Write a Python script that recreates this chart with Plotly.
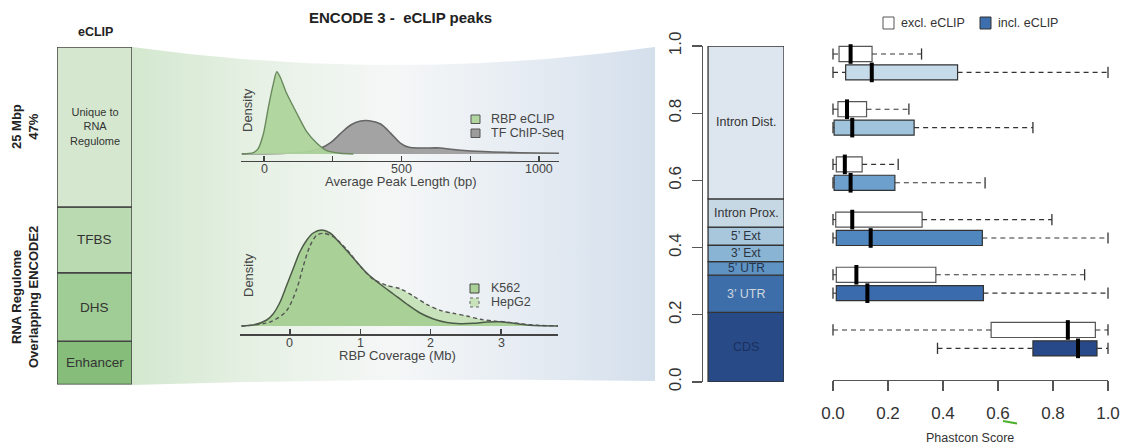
import numpy as np
import plotly.graph_objects as go

W, H = 1122, 447
FONT = "Liberation Sans, Arial, sans-serif"


def X(px):
    return px / W


def Y(py):
    return 1 - py / H


# ---------------- data ----------------
# left stacked bar: eCLIP peak territory (Mbp), bottom -> top
eclip_labels = ["Enhancer", "DHS", "TFBS", "Unique to<br>RNA<br>Regulome"]
eclip_mbp = [6.75, 10.7, 10.3, 25.0]
eclip_colors = ["#86bd7a", "#a0cc96", "#badab2", "#d5e8cf"]
eclip_fontsize = [13.5, 13.5, 13.5, 11]

# inset 1: average peak length densities
rbp_len_x = [-81, -39, -21, -2, 16, 34, 46, 58, 82, 119, 155, 192, 228, 276, 325]
rbp_len_y = [0, 0.13, 0.57, 2.07, 4.73, 7.07, 8.23, 7.73, 6.07, 4.07, 2.23, 1.07, 0.33, 0.07, 0]
tf_len_x = [-81, 82, 155, 206, 242, 279, 315, 351, 382, 424, 461, 497, 527, 570, 642, 679, 752, 873, 994, 1073]
tf_len_y = [0.02, 0.07, 0.23, 0.57, 1.13, 2.07, 2.9, 3.3, 3.33, 3.0, 2.07, 1.07, 0.67, 0.6, 0.6, 0.47, 0.3, 0.17, 0.1, 0.07]
len_ticks = [0, 250, 500, 750, 1000]
len_ticktext = ["0", "", "500", "", "1000"]

# inset 2: RBP coverage densities
k562_x = [-0.69, -0.52, -0.33, -0.24, -0.14, -0.05, 0.05, 0.14, 0.24, 0.33, 0.45, 0.57, 0.71, 0.90,
          1.09, 1.28, 1.47, 1.66, 1.85, 2.04, 2.23, 2.42, 2.61, 2.80, 2.99, 3.18, 3.37, 3.82]
k562_y = [0.0, 0.01, 0.06, 0.12, 0.24, 0.40, 0.58, 0.74, 0.86, 0.93, 0.96, 0.93, 0.83, 0.68,
          0.53, 0.42, 0.32, 0.22, 0.13, 0.07, 0.035, 0.023, 0.027, 0.04, 0.043, 0.027, 0.01, 0.0]
hepg2_x = [-0.69, -0.28, -0.05, 0.095, 0.19, 0.284, 0.379, 0.474, 0.616, 0.806, 0.996, 1.185, 1.375,
           1.565, 1.754, 1.944, 2.134, 2.323, 2.513, 2.703, 2.892, 3.082, 3.27, 3.51, 3.82]
hepg2_y = [0.0, 0.04, 0.15, 0.367, 0.6, 0.8, 0.907, 0.927, 0.893, 0.767, 0.6, 0.467, 0.407,
           0.373, 0.3, 0.217, 0.157, 0.127, 0.1, 0.067, 0.05, 0.04, 0.023, 0.007, 0.0]
cov_ticks = [0, 1, 2, 3]
cov_ticktext = ["0", "1", "2", "3"]

# middle stacked bar: genomic region fractions, bottom -> top
region_labels = ["CDS", "3’ UTR", "5’ UTR", "3’ Ext", "5’ Ext", "Intron Prox.", "Intron Dist."]
region_frac = [0.207, 0.111, 0.040, 0.049, 0.054, 0.084, 0.455]
region_colors = ["#284b88", "#3d6ea9", "#5f93c3", "#8ab4d3", "#a8c6dc", "#c7d8e5", "#dde6ef"]
region_textcolor = ["#1b2f5f", "#cfd6df", "#24354f", "#2b3440", "#2b3440", "#333333", "#333333"]
region_fontsize = [12.5, 12.5, 12, 12, 12, 12.5, 12.5]
frac_ticks = [0.0, 0.2, 0.4, 0.6, 0.8, 1.0]
frac_ticktext = ["0.0", "0.2", "0.4", "0.6", "0.8", "1.0"]

# boxplots of Phastcon score, groups top -> bottom
box_groups = ["Intron Dist.", "Intron Prox.", "Ext", "5’ UTR", "3’ UTR", "CDS"]
box_colors = ["#c6dbea", "#a0c4dc", "#6ea0cd", "#5087be", "#3a6cad", "#27498a"]
excl_lo = [0.0, 0.0, 0.0, 0.0, 0.0, 0.0]
excl_q1 = [0.022, 0.018, 0.012, 0.010, 0.012, 0.575]
excl_med = [0.064, 0.051, 0.043, 0.070, 0.085, 0.854]
excl_q3 = [0.142, 0.122, 0.106, 0.324, 0.374, 0.954]
excl_hi = [0.322, 0.276, 0.237, 0.796, 0.915, 1.0]
incl_lo = [0.0, 0.0, 0.0, 0.0, 0.0, 0.380]
incl_q1 = [0.046, 0.004, 0.004, 0.012, 0.012, 0.727]
incl_med = [0.141, 0.070, 0.064, 0.137, 0.125, 0.891]
incl_q3 = [0.453, 0.295, 0.225, 0.543, 0.547, 0.960]
incl_hi = [1.0, 0.727, 0.553, 1.0, 1.0, 1.0]
score_ticks = [0.0, 0.2, 0.4, 0.6, 0.8, 1.0]
score_ticktext = ["0.0", "0.2", "0.4", "0.6", "0.8", "1.0"]

# ---------------- figure ----------------
fig = go.Figure()

# background fan (decorative gradient between left bar and middle bar)
fx0, fx1 = 132, 655
xs = np.linspace(fx0, fx1, 80)
t = (xs - fx0) / (fx1 - fx0)
top = 47 + 18 * 4 * t * (1 - t)
bot = 385 - 4 * t - 3 * 4 * t * (1 - t)
fig.add_trace(go.Scatter(
    x=np.concatenate([xs, xs[::-1]]), y=np.concatenate([top, bot[::-1]]),
    mode="lines", line=dict(width=0), fill="toself",
    fillgradient=dict(type="horizontal",
                      colorscale=[[0, "#d3e8cf"], [0.25, "#e7f1e5"], [0.5, "#f5f7f7"],
                                   [0.75, "#e6ecf3"], [1, "#d4dfec"]]),
    hoverinfo="skip", showlegend=False, xaxis="x", yaxis="y"))

# left stacked bar
eclip_base = np.concatenate([[0], np.cumsum(eclip_mbp)[:-1]])
for lab, v, b, c in zip(eclip_labels, eclip_mbp, eclip_base, eclip_colors):
    fig.add_trace(go.Bar(x=[0], y=[v], base=[b], width=1, name=lab.replace("<br>", " "),
                         marker=dict(color=c, line=dict(color="#454545", width=1.5)),
                         showlegend=False, xaxis="x2", yaxis="y2"))

# inset 1 densities
fig.add_trace(go.Scatter(x=tf_len_x, y=tf_len_y, mode="lines", fill="tozeroy",
                         line=dict(color="#666666", width=1.6, shape="spline", smoothing=0.8),
                         fillcolor="#a3a3a3", name="TF ChIP-Seq", showlegend=False,
                         xaxis="x3", yaxis="y3"))
fig.add_trace(go.Scatter(x=rbp_len_x, y=rbp_len_y, mode="lines", fill="tozeroy",
                         line=dict(color="#6a8a5e", width=1.4, shape="spline", smoothing=0.7),
                         fillcolor="rgba(174,212,156,0.95)", name="RBP eCLIP", showlegend=False,
                         xaxis="x3", yaxis="y3"))

# inset 2 densities
fig.add_trace(go.Scatter(x=hepg2_x, y=hepg2_y, mode="lines", fill="tozeroy",
                         line=dict(width=0, shape="spline", smoothing=0.8),
                         fillcolor="#c8e2bb", name="HepG2", showlegend=False,
                         xaxis="x4", yaxis="y4"))
fig.add_trace(go.Scatter(x=k562_x, y=k562_y, mode="lines", fill="tozeroy",
                         line=dict(color="#4d5c48", width=1.5, shape="spline", smoothing=0.8),
                         fillcolor="#a9d097", name="K562", showlegend=False,
                         xaxis="x4", yaxis="y4"))
fig.add_trace(go.Scatter(x=hepg2_x, y=hepg2_y, mode="lines",
                         line=dict(color="#555555", width=1.4, dash="4px,3px", shape="spline", smoothing=0.8),
                         name="HepG2 line", showlegend=False, hoverinfo="skip",
                         xaxis="x4", yaxis="y4"))

# middle stacked bar
region_base = np.concatenate([[0], np.cumsum(region_frac)[:-1]])
for lab, v, b, c in zip(region_labels, region_frac, region_base, region_colors):
    fig.add_trace(go.Bar(x=[0], y=[v], base=[b], width=1, name=lab,
                         marker=dict(color=c, line=dict(color="#333333", width=1.3)),
                         showlegend=False, xaxis="x5", yaxis="y5"))

# boxplots
n = len(box_groups)
pos_excl = np.arange(n) * 3.0
pos_incl = pos_excl + 1.0
fig.add_trace(go.Bar(y=pos_excl, x=np.array(excl_q3) - np.array(excl_q1), base=excl_q1,
                     orientation="h", width=0.82, name="excl. eCLIP",
                     marker=dict(color="white", line=dict(color="#555555", width=1.2)),
                     showlegend=False, xaxis="x6", yaxis="y6"))
fig.add_trace(go.Bar(y=pos_incl, x=np.array(incl_q3) - np.array(incl_q1), base=incl_q1,
                     orientation="h", width=0.82, name="incl. eCLIP",
                     marker=dict(color=box_colors, line=dict(color="#333333", width=1.2)),
                     showlegend=False, xaxis="x6", yaxis="y6"))

wx, wy, cx, cy = [], [], [], []
rows = list(zip(excl_lo, excl_q1, excl_q3, excl_hi, pos_excl)) + \
    list(zip(incl_lo, incl_q1, incl_q3, incl_hi, pos_incl))
for lo, q1, q3, hi, p in rows:
    wx += [lo, q1, None, q3, hi, None]
    wy += [p, p, None, p, p, None]
    cx += [lo, hi]
    cy += [p, p]
fig.add_trace(go.Scatter(x=wx, y=wy, mode="lines", line=dict(color="#333333", width=1.1, dash="5px,4px"),
                         hoverinfo="skip", showlegend=False, cliponaxis=False, xaxis="x6", yaxis="y6"))
fig.add_trace(go.Scatter(x=cx, y=cy, mode="markers",
                         marker=dict(symbol="line-ns", size=8, line=dict(color="#333333", width=1.3)),
                         hoverinfo="skip", showlegend=False, cliponaxis=False, xaxis="x6", yaxis="y6"))
fig.add_trace(go.Scatter(x=list(excl_med) + list(incl_med), y=list(pos_excl) + list(pos_incl),
                         mode="markers", marker=dict(symbol="line-ns", size=14, line=dict(color="black", width=4)),
                         name="median", showlegend=False, cliponaxis=False, xaxis="x6", yaxis="y6"))

# ---------------- layout ----------------
hidden = dict(visible=False, fixedrange=True, showgrid=False, zeroline=False, automargin=False)
tickfont_big = dict(family=FONT, size=17, color="#333333")
inset_axis = dict(showline=True, linecolor="#444444", linewidth=1.6,
                  ticks="inside", ticklen=5, tickcolor="#444444", tickwidth=1.2,
                  showticklabels=False, showgrid=False, zeroline=False,
                  fixedrange=True, automargin=False)

fig.update_layout(
    width=W, height=H, autosize=False,
    margin=dict(l=0, r=0, t=0, b=0, pad=0, autoexpand=False),
    paper_bgcolor="white", plot_bgcolor="rgba(0,0,0,0)",
    barmode="overlay", showlegend=False,
    font=dict(family=FONT, color="#333333"),
    xaxis=dict(domain=[0, 1], range=[0, W], **hidden),
    yaxis=dict(domain=[0, 1], range=[H, 0], **hidden),
    xaxis2=dict(domain=[X(57), X(132)], range=[-0.5, 0.5], anchor="y2", **hidden),
    yaxis2=dict(domain=[Y(384.5), Y(47)], range=[0, float(sum(eclip_mbp))], anchor="x2", **hidden),
    xaxis3=dict(domain=[X(241), X(559)], range=[-84, 1073], anchor="y3",
                tickvals=len_ticks, **inset_axis),
    yaxis3=dict(domain=[Y(160.5), Y(62)], range=[-0.65, 9.2], anchor="x3", **hidden),
    xaxis4=dict(domain=[X(240), X(558)], range=[-0.71, 3.81], anchor="y4",
                tickvals=cov_ticks, **inset_axis),
    yaxis4=dict(domain=[Y(334), Y(222)], range=[-0.08, 1.04], anchor="x4", **hidden),
    xaxis5=dict(domain=[X(703), X(784)], range=[-0.5667, 0.5], anchor="y5", **hidden),
    yaxis5=dict(domain=[Y(382), Y(46)], range=[0, 1], anchor="x5",
                showline=True, linecolor="#555555", linewidth=1.2,
                ticks="outside", ticklen=10, tickcolor="#555555", tickwidth=1.2,
                tickmode="array", tickvals=frac_ticks, ticktext=frac_ticktext,
                tickangle=-90, tickfont=tickfont_big, ticklabelstandoff=4,
                showgrid=False, zeroline=False, fixedrange=True, automargin=False),
    xaxis6=dict(domain=[X(833), X(1108)], range=[0, 1], anchor="y6",
                showline=True, linecolor="#555555", linewidth=1.2,
                ticks="outside", ticklen=10, tickcolor="#555555", tickwidth=1.2,
                tickmode="array", tickvals=score_ticks, ticktext=score_ticktext,
                tickfont=tickfont_big, ticklabelstandoff=7,
                showgrid=False, zeroline=False, fixedrange=True, automargin=False),
    yaxis6=dict(domain=[Y(380), Y(38)], range=[17.72, -0.87], anchor="x6", **hidden),
)

annotations = []


def ann(text, px, py, size, color="#333333", bold=False, angle=0, xanchor="center"):
    annotations.append(dict(
        text=text, x=X(px), y=Y(py), xref="paper", yref="paper",
        xanchor=xanchor, yanchor="middle", showarrow=False, textangle=angle,
        font=dict(family=FONT, size=size, color=color, weight="bold" if bold else "normal")))


ann("ENCODE 3 -  eCLIP peaks", 400, 18, 15, "#222222", bold=True)
ann("eCLIP", 95, 32, 12.5, "#222222", bold=True)
ann("25 Mbp<br>47%", 25, 127, 13, "#222222", bold=True, angle=-90)
ann("RNA Regulome<br>Overlapping ENCODE2", 25, 297, 13, "#222222", bold=True, angle=-90)

# labels in left bar (at segment centres)
for lab, v, b, fs in zip(eclip_labels, eclip_mbp, eclip_base, eclip_fontsize):
    annotations.append(dict(text=lab, x=0, y=b + v / 2, xref="x2", yref="y2", showarrow=False,
                            font=dict(family=FONT, size=fs, color="#333333")))

# labels in middle bar
for lab, v, b, fs, tc in zip(region_labels, region_frac, region_base, region_fontsize, region_textcolor):
    annotations.append(dict(text=lab, x=0, y=b + v / 2, xref="x5", yref="y5", showarrow=False,
                            font=dict(family=FONT, size=fs, color=tc)))

# inset tick labels (placed tight under the axis line, as in the reference)
for v, tt in zip(len_ticks, len_ticktext):
    if tt:
        annotations.append(dict(text=tt, x=v, y=Y(169), xref="x3", yref="paper", showarrow=False,
                                yanchor="middle", font=dict(family=FONT, size=12.5, color="#444444")))
for v, tt in zip(cov_ticks, cov_ticktext):
    annotations.append(dict(text=tt, x=v, y=Y(343), xref="x4", yref="paper", showarrow=False,
                            yanchor="middle", font=dict(family=FONT, size=12.5, color="#444444")))

# inset titles / labels
ann("Density", 248, 110, 13, "#444444", angle=-90)
ann("Average Peak Length (bp)", 401, 181, 13, "#444444")
ann("Density", 248, 275, 13, "#444444", angle=-90)
ann("RBP Coverage (Mb)", 397, 355, 13, "#444444")
ann("RBP eCLIP", 489, 119, 12.5, "#444444", xanchor="left")
ann("TF ChIP-Seq", 489, 133, 12.5, "#444444", xanchor="left")
ann("K562", 489, 288, 12.5, "#444444", xanchor="left")
ann("HepG2", 489, 302, 12.5, "#444444", xanchor="left")
ann("excl. eCLIP", 899, 23, 12.5, "#333333", xanchor="left")
ann("incl. eCLIP", 996, 23, 12.5, "#333333", xanchor="left")
ann("Phastcon Score", 970, 438, 12.5, "#333333")

shapes = []


def rect(x0, y0, x1, y1, fill, line="#555555", dash="solid", lw=1):
    shapes.append(dict(type="rect", xref="paper", yref="paper",
                       x0=X(x0), x1=X(x1), y0=Y(y1), y1=Y(y0),
                       fillcolor=fill, line=dict(color=line, width=lw, dash=dash)))


rect(471, 115, 480, 123.5, "#b0d59e")
rect(471, 129, 480, 137.5, "#9c9c9c")
rect(470, 284, 479, 293, "#a9d097", "#444444")
rect(470, 298, 479, 307, "#c8e2bb", "#666666", dash="dot")
rect(883, 17, 894, 29, "white", "#555555")
rect(980, 17, 991, 29, "#3d6fae", "#333333")
shapes.append(dict(type="line", xref="paper", yref="paper", x0=X(1003), y0=Y(421), x1=X(1017), y1=Y(423.5),
                   line=dict(color="#4caf2a", width=2)))

fig.update_layout(annotations=annotations, shapes=shapes)
fig.write_html("out.html", config={"displayModeBar": False, "staticPlot": True},
               post_script="document.body.style.margin='0px';document.body.style.overflow='hidden';")
